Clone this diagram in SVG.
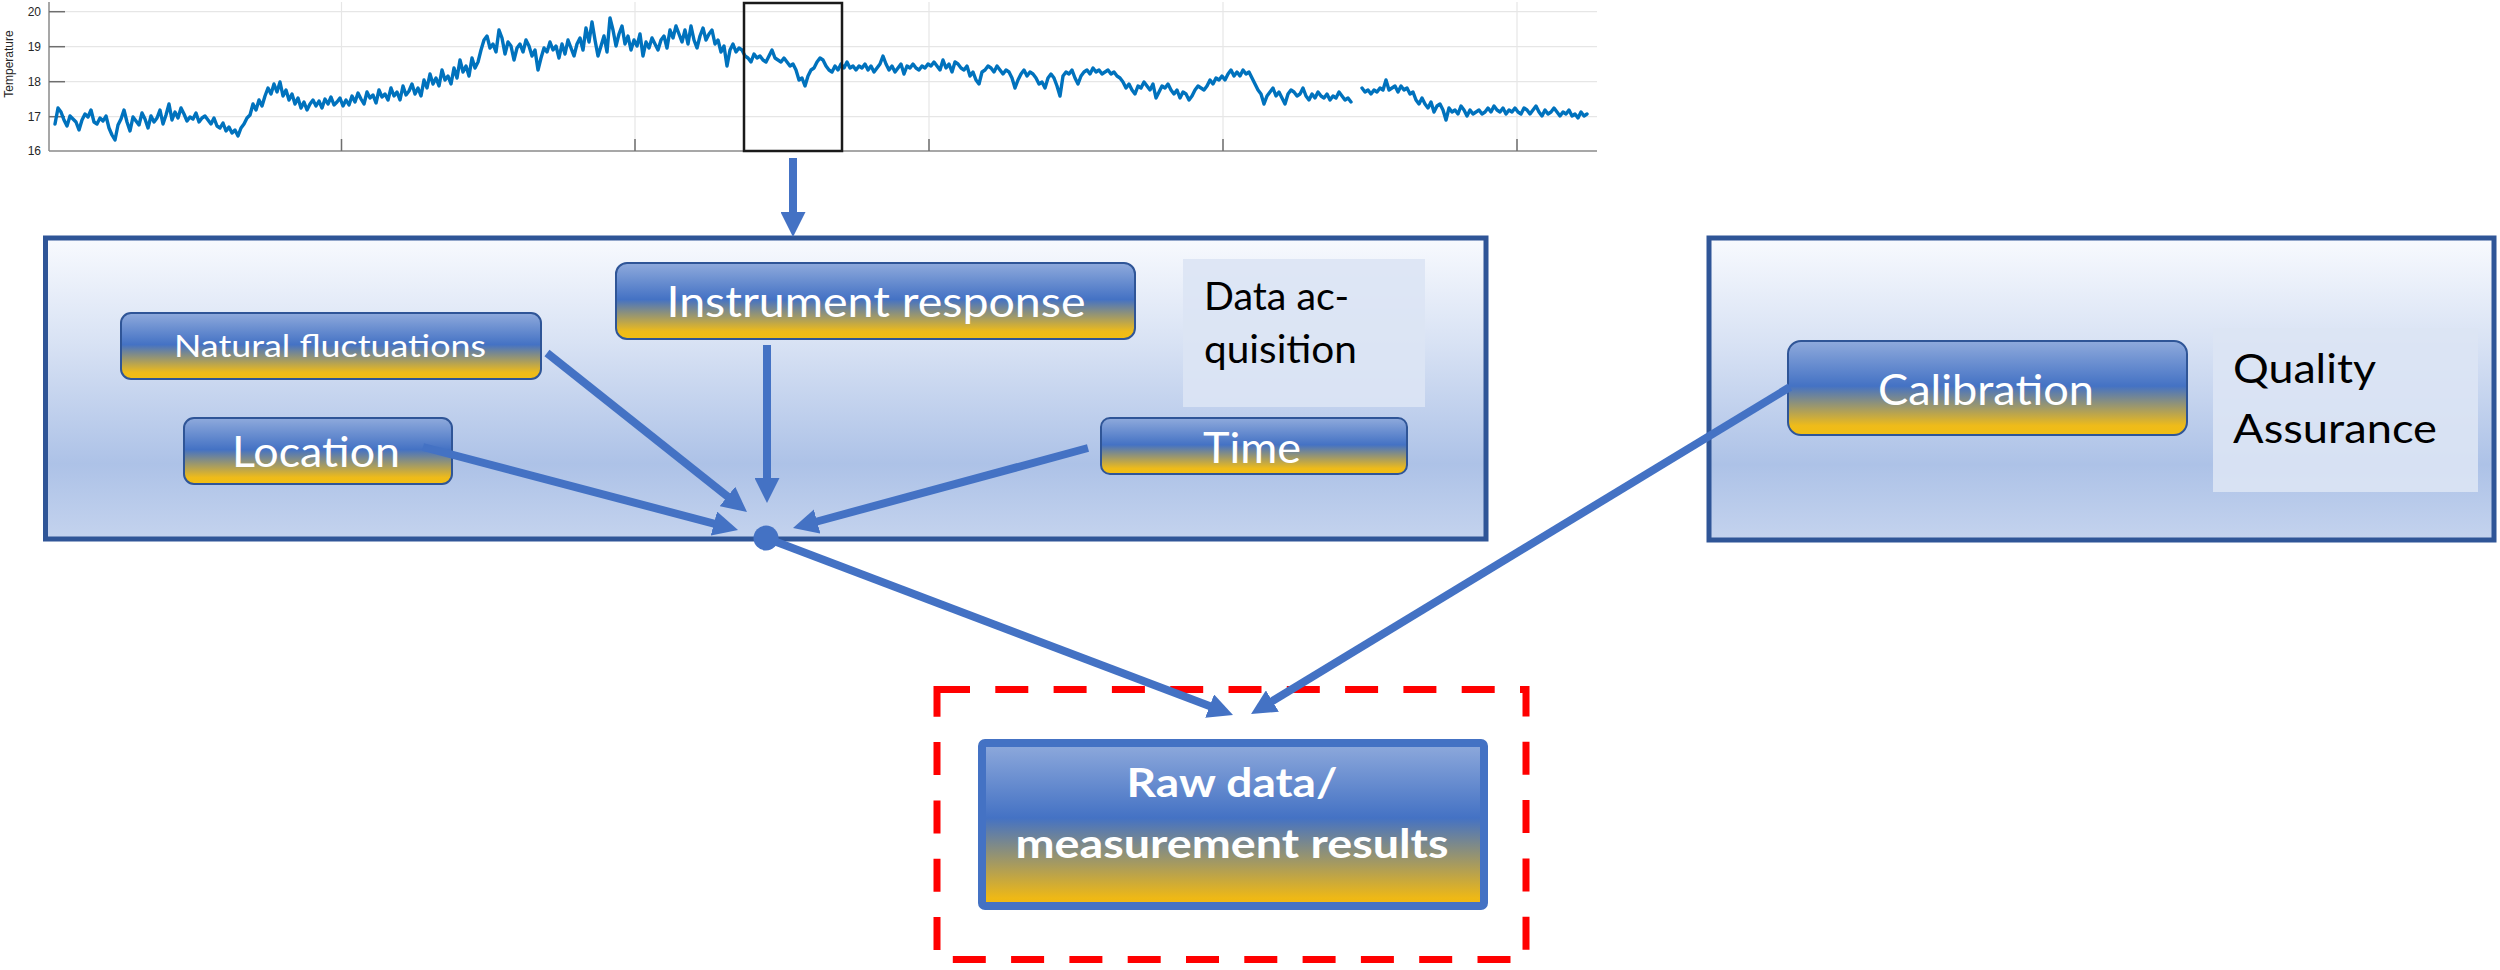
<svg xmlns="http://www.w3.org/2000/svg" width="2500" height="970" viewBox="0 0 2500 970">
<style>
.grid{stroke:#E6E6E6;stroke-width:1.2;fill:none}
.axis{stroke:#8A8A8A;stroke-width:1.5;fill:none}
.tick{stroke:#6E6E6E;stroke-width:1.5;fill:none}
.ylab{font-family:"Liberation Sans",Arial,sans-serif;font-size:12px;fill:#262626}
.data{fill:none;stroke:#0072BD;stroke-width:3.4;stroke-linejoin:round;stroke-linecap:round}
.container{stroke:#2F5597;stroke-width:5}
.node{fill:url(#nodeGrad);stroke:#2F5597;stroke-width:2}
.ntext{font-family:Lato,"Open Sans",sans-serif;fill:#FFFFFF;text-anchor:middle}
.ltext{font-family:Lato,"Open Sans",sans-serif;fill:#000000}
.lbox{fill:#DCE4F4;fill-opacity:0.9}
.conn{stroke:#4472C4;stroke-width:8;fill:none}
</style>
<defs>
<linearGradient id="contGrad" x1="0" y1="0" x2="0" y2="1">
<stop offset="0" stop-color="#F8FAFE"/>
<stop offset="0.35" stop-color="#D8E2F4"/>
<stop offset="0.75" stop-color="#ADC2E7"/>
<stop offset="1" stop-color="#C4D3EE"/>
</linearGradient>
<linearGradient id="nodeGrad" x1="0" y1="0" x2="0" y2="1">
<stop offset="0" stop-color="#8FAADC"/>
<stop offset="0.48" stop-color="#4472C4"/>
<stop offset="0.9" stop-color="#EEBB1A"/>
<stop offset="1" stop-color="#F2BE12"/>
</linearGradient>
<linearGradient id="rawGrad" x1="0" y1="0" x2="0" y2="1">
<stop offset="0" stop-color="#8FAADC"/>
<stop offset="0.46" stop-color="#4472C4"/>
<stop offset="0.95" stop-color="#EEB816"/>
<stop offset="1" stop-color="#F0B912"/>
</linearGradient>
<marker id="arrow" viewBox="0 0 25 25" markerWidth="25" markerHeight="25" markerUnits="userSpaceOnUse" refX="2" refY="12.5" orient="auto">
<path d="M0,0 L25,12.5 L0,25 z" fill="#4472C4"/>
</marker>
</defs>

<g id="chart">
<g class="grid">
<line x1="49" y1="11.7" x2="1597" y2="11.7"/>
<line x1="49" y1="46.7" x2="1597" y2="46.7"/>
<line x1="49" y1="81.7" x2="1597" y2="81.7"/>
<line x1="49" y1="116.7" x2="1597" y2="116.7"/>
<line x1="341.5" y1="2" x2="341.5" y2="151"/>
<line x1="635" y1="2" x2="635" y2="151"/>
<line x1="929" y1="2" x2="929" y2="151"/>
<line x1="1223" y1="2" x2="1223" y2="151"/>
<line x1="1517" y1="2" x2="1517" y2="151"/>
</g>
<g class="axis">
<line x1="49" y1="2" x2="49" y2="151"/>
<line x1="49" y1="151" x2="1597" y2="151"/>
</g>
<g class="tick">
<line x1="49" y1="11.7" x2="65" y2="11.7"/>
<line x1="49" y1="46.7" x2="65" y2="46.7"/>
<line x1="49" y1="81.7" x2="65" y2="81.7"/>
<line x1="49" y1="116.7" x2="65" y2="116.7"/>
<line x1="341.5" y1="139" x2="341.5" y2="151"/>
<line x1="635" y1="139" x2="635" y2="151"/>
<line x1="929" y1="139" x2="929" y2="151"/>
<line x1="1223" y1="139" x2="1223" y2="151"/>
<line x1="1517" y1="139" x2="1517" y2="151"/>
</g>
<g class="ylab" text-anchor="end">
<text x="41" y="16">20</text>
<text x="41" y="51">19</text>
<text x="41" y="86">18</text>
<text x="41" y="121">17</text>
<text x="41" y="155">16</text>
</g>
<text class="ylab" font-size="11.5" text-anchor="middle" transform="translate(13,64) rotate(-90)">Temperature</text>
<path class="data" d="M55,124 L58,108 61,112 64,120 67,126 70,116 73,119 76,122 79,130 82,120 85,114 88,117 91,110 94,122 97,124 100,118 103,121 106,116 109,128 112,135 115,140 118,125 121,119 124,110 127,122 130,131 133,117 136,121 139,125 142,113 145,119 148,128 151,116 154,122 157,118 160,110 163,124 166,115 169,104 172,120 175,112 178,118 181,108 184,114 187,121 190,117 193,119 196,113 199,122 202,118 205,116 208,120 211,124 214,118 217,126 220,128 223,123 226,131 229,127 232,133 235,130 238,136 241,128 244,124 247,118 250,115 253,104 256,110 259,100 262,106 265,96 268,88 271,94 274,84 277,92 280,82 283,96 286,90 289,100 292,94 295,104 298,98 301,108 304,102 307,110 310,104 313,100 316,106 319,101 322,108 325,99 328,104 331,97 334,105 337,102 340,98 343,106 346,100 349,105 352,96 355,102 358,93 361,99 364,104 367,92 370,98 373,95 376,103 379,90 382,97 385,94 388,100 391,88 394,96 397,92 400,100 403,86 406,95 409,91 412,84 415,94 418,88 421,96 424,80 427,88 430,74 433,84 436,78 439,86 442,70 445,80 448,76 451,84 454,68 457,78 460,60 463,72 466,66 469,76 472,58 475,68 478,62 481,50 484,40 487,36 490,48 493,44 496,52 499,30 502,38 505,54 508,42 511,46 514,60 517,48 520,44 523,52 526,40 529,46 532,56 535,50 538,70 541,58 544,48 547,52 550,42 553,50 556,46 559,58 562,44 565,54 568,40 571,48 574,56 577,44 580,38 583,50 586,28 589,42 592,22 595,40 598,56 601,46 604,36 607,52 610,18 613,30 616,46 619,34 622,26 625,44 628,36 631,50 634,40 637,46 640,34 643,56 646,42 649,48 652,38 655,44 658,50 661,40 664,36 667,48 670,30 673,38 676,26 679,34 682,42 685,30 688,44 691,26 694,40 697,48 700,36 703,28 706,40 709,34 712,30 715,44 718,40 721,52 724,46 727,66 730,50 733,44 736,52 739,48 742,50 745,56 748,58 751,62 754,54 757,58 760,56 763,60 766,62 769,56 772,50 775,58 778,60 781,62 784,58 787,62 790,66 793,64 796,70 799,80 802,78 805,86 808,76 811,70 814,68 817,62 820,58 823,60 826,66 829,70 832,72 835,66 838,70 841,64 844,68 847,62 850,68 853,66 856,70 859,66 862,68 865,64 868,70 871,66 874,72 877,68 880,64 883,56 886,64 889,70 892,66 895,72 898,68 901,64 904,74 907,66 910,68 913,64 916,68 919,70 922,66 925,68 928,64 931,66 934,62 937,66 940,70 943,60 946,68 949,64 952,72 955,62 958,64 961,68 964,70 967,66 970,76 973,72 976,80 979,84 982,72 985,70 988,66 991,68 994,72 997,66 1000,70 1003,74 1006,70 1009,72 1012,78 1015,88 1018,80 1021,74 1024,70 1027,76 1030,72 1033,74 1036,78 1039,84 1042,82 1045,88 1048,78 1051,74 1054,78 1057,86 1060,96 1063,76 1066,72 1069,74 1072,70 1075,78 1078,84 1081,76 1084,72 1087,70 1090,74 1093,68 1096,72 1099,70 1102,74 1105,72 1108,70 1111,74 1114,72 1117,76 1120,78 1123,82 1126,88 1129,84 1132,90 1135,94 1138,86 1141,88 1144,82 1147,86 1150,90 1153,84 1156,98 1159,92 1162,86 1165,88 1168,84 1171,90 1174,94 1177,90 1180,98 1183,92 1186,94 1189,100 1192,96 1195,90 1198,86 1201,88 1204,90 1207,86 1210,80 1213,84 1216,78 1219,80 1222,76 1225,80 1228,74 1231,70 1234,76 1237,72 1240,76 1243,70 1246,74 1249,72 1252,78 1255,84 1258,90 1261,94 1264,104 1267,96 1270,92 1273,88 1276,96 1279,92 1282,98 1285,104 1288,94 1291,90 1294,92 1297,96 1300,94 1303,88 1306,96 1309,100 1312,94 1315,98 1318,92 1321,96 1324,98 1327,94 1330,100 1333,96 1336,98 1339,92 1342,96 1345,100 1348,98 1351,102 M1362,88 L1365,92 1368,90 1371,94 1374,90 1377,92 1380,88 1383,90 1386,80 1389,90 1392,88 1395,86 1398,92 1401,86 1404,90 1407,88 1410,94 1413,92 1416,100 1419,104 1422,98 1425,104 1428,108 1431,102 1434,112 1437,106 1440,104 1443,110 1446,120 1449,108 1452,112 1455,110 1458,114 1461,106 1464,110 1467,116 1470,110 1473,114 1476,112 1479,110 1482,114 1485,112 1488,108 1491,112 1494,106 1497,110 1500,112 1503,108 1506,114 1509,110 1512,112 1515,108 1518,112 1521,114 1524,108 1527,110 1530,114 1533,110 1536,106 1539,112 1542,116 1545,110 1548,114 1551,112 1554,108 1557,112 1560,116 1563,112 1566,114 1569,110 1572,116 1575,114 1578,118 1581,112 1584,116 1587,114"/>
<rect id="selection" x="744" y="3" width="98" height="148" fill="none" stroke="#1A1A1A" stroke-width="2.5"/>
</g>

<g id="data-acquisition">
<rect class="container" x="45.5" y="238" width="1440.5" height="301" fill="url(#contGrad)"/>
<rect class="lbox" x="1183" y="259" width="242" height="148"/>
<text class="ltext" x="1204" y="310" font-size="38" textLength="145" lengthAdjust="spacingAndGlyphs">Data ac-</text>
<text class="ltext" x="1204" y="363" font-size="38" textLength="153" lengthAdjust="spacingAndGlyphs">quisition</text>
</g>

<g id="quality-assurance">
<rect class="container" x="1709" y="238" width="785" height="302" fill="url(#contGrad)"/>
<rect class="lbox" x="2213" y="328" width="265" height="164"/>
<text class="ltext" x="2233" y="383" font-size="40" textLength="143" lengthAdjust="spacingAndGlyphs">Quality</text>
<text class="ltext" x="2233" y="443" font-size="40" textLength="204" lengthAdjust="spacingAndGlyphs">Assurance</text>
</g>

<g id="natural-fluctuations">
<rect class="node" x="121" y="313" width="420" height="66" rx="10"/>
<text class="ntext" x="330" y="357" font-size="31" textLength="312" lengthAdjust="spacingAndGlyphs">Natural fluctuations</text>
</g>

<g id="location">
<rect class="node" x="184" y="418" width="268" height="66" rx="10"/>
<text class="ntext" x="316" y="467" font-size="43" textLength="168" lengthAdjust="spacingAndGlyphs">Location</text>
</g>

<g id="instrument-response">
<rect class="node" x="616" y="263" width="519" height="76" rx="11"/>
<text class="ntext" x="876" y="317" font-size="42" textLength="419" lengthAdjust="spacingAndGlyphs">Instrument response</text>
</g>

<g id="time">
<rect class="node" x="1101" y="418" width="306" height="56" rx="9"/>
<text class="ntext" x="1252" y="463" font-size="43" textLength="98" lengthAdjust="spacingAndGlyphs">Time</text>
</g>

<g id="calibration">
<rect class="node" x="1788" y="341" width="399" height="94" rx="13"/>
<text class="ntext" x="1986" y="405" font-size="43" textLength="216" lengthAdjust="spacingAndGlyphs">Calibration</text>
</g>

<g id="raw-data">
<rect x="937" y="689.5" width="589" height="270" fill="none" stroke="#FF0000" stroke-width="7" stroke-dasharray="33 25.3"/>
<rect x="982" y="743" width="502" height="163" rx="3" fill="url(#rawGrad)" stroke="#4472C4" stroke-width="8"/>
<text class="ntext" x="1232" y="797" font-size="40" font-weight="bold" textLength="211" lengthAdjust="spacingAndGlyphs">Raw data/</text>
<text class="ntext" x="1232" y="858" font-size="40" font-weight="bold" textLength="433" lengthAdjust="spacingAndGlyphs">measurement results</text>
</g>

<g id="connectors">
<line class="conn" x1="793" y1="158" x2="793" y2="214" marker-end="url(#arrow)"/>
<line class="conn" x1="547" y1="353" x2="729" y2="497.7" marker-end="url(#arrow)"/>
<line class="conn" x1="423" y1="447" x2="715.8" y2="524.1" marker-end="url(#arrow)"/>
<line class="conn" x1="767" y1="345" x2="767" y2="480" marker-end="url(#arrow)"/>
<line class="conn" x1="1088" y1="448" x2="815.2" y2="522" marker-end="url(#arrow)"/>
<line class="conn" x1="766" y1="538" x2="1211.5" y2="706.8" marker-end="url(#arrow)"/>
<line class="conn" x1="1790" y1="387" x2="1270.7" y2="702.1" marker-end="url(#arrow)"/>
<circle id="junction" cx="766" cy="538" r="12.5" fill="#4472C4"/>
</g>
</svg>
